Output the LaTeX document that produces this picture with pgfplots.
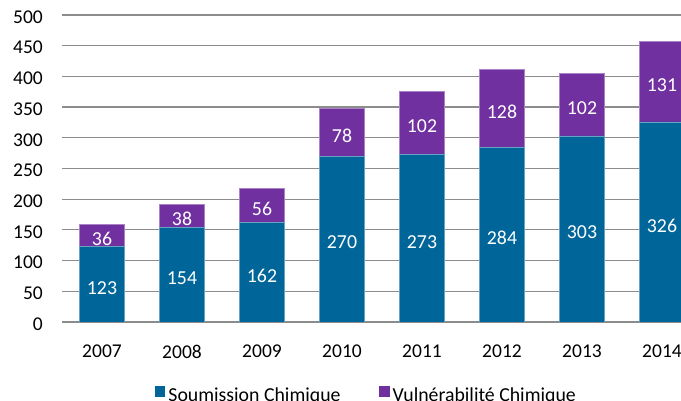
\documentclass[border=0pt]{standalone}
\usepackage{pgfplots}
\pgfplotsset{compat=1.18}
\usepackage{pgfplotstable}
\usepackage{fontspec}
\setmainfont{Carlito}
\definecolor{soum}{RGB}{0,102,153}
\definecolor{vuln}{RGB}{112,48,160}
\definecolor{gridgray}{RGB}{140,140,140}

\pgfplotstableread{
x year soum vuln
0 2007 123 36
1 2008 154 38
2 2009 162 56
3 2010 270 78
4 2011 273 102
5 2012 284 128
6 2013 303 102
7 2014 326 131
}\data

\begin{document}
\begin{tikzpicture}
\begin{axis}[
    name=ax,
    ybar stacked,
    scale only axis,
    width=619pt, height=307pt,
    bar width=45pt,
    xmin=-0.5, xmax=7.2375,
    ymin=0, ymax=500,
    ytick={0,50,...,500},
    xtick=data,
    xticklabels={2007,2008,2009,2010,2011,2012,2013,2014},
    axis line style={draw=none},
    ymajorgrids,
    grid style={gridgray, line width=1.2pt},
    major tick length=0pt,
    /pgf/number format/assume math mode=true,
    tick label style={font=\fontsize{19.5}{23}\selectfont, inner sep=0pt},
    xticklabel style={anchor=north, yshift=-23pt},
    yticklabel style={anchor=east, xshift=-19pt, yshift=-2pt},
    point meta=explicit,
    nodes near coords,
    every node near coord/.append style={font=\fontsize{19.8}{23}\selectfont, white, anchor=center, inner sep=0pt, yshift=-3.5pt},
    legend style={at={(axis description cs:0.493,-0.203)}, anchor=north, draw=none, fill=none,
        font=\fontsize{19.8}{23}\selectfont, legend columns=2, inner sep=0pt,
        nodes={inner sep=3.5pt},
        /tikz/every even column/.append style={column sep=35pt}},
]
\addplot[fill=soum, draw=soum!60!white, line width=0.5pt,
    legend image code/.code={\fill[soum] (0pt,-1pt) rectangle (9.5pt,9pt);}]
    table[x=x, y=soum, meta=soum] {\data};
\addplot[fill=vuln, draw=vuln!60!white, line width=0.5pt,
    legend image code/.code={\fill[vuln] (0pt,-1pt) rectangle (9.5pt,9pt);}]
    table[x=x, y=vuln, meta=vuln] {\data};
\legend{Soumission Chimique, Vulnérabilité Chimique}
\end{axis}
\pgfresetboundingbox
\path[use as bounding box] ([xshift=-62pt,yshift=-79pt]ax.south west) rectangle ([yshift=15pt]ax.north east);
\end{tikzpicture}
\end{document}
